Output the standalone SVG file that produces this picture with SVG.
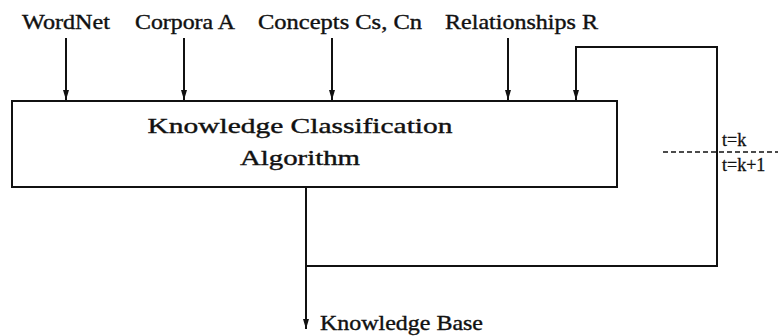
<svg xmlns="http://www.w3.org/2000/svg" width="778" height="336" viewBox="0 0 778 336">
  <style>
    .lbl { font-family: "Liberation Serif", "DejaVu Serif", serif; font-size: 22px; fill: #111; stroke: #111; stroke-width: 0.4; }
    .small { font-family: "Liberation Serif", "DejaVu Serif", serif; font-size: 18px; fill: #111; stroke: #111; stroke-width: 0.3; }
    .box { fill: #fff; stroke: #111; stroke-width: 2; }
    .wire { fill: none; stroke: #111; stroke-width: 2; }
    .dash { fill: none; stroke: #111; stroke-width: 1.6; stroke-dasharray: 5 3; }
  </style>
  <defs>
    <!-- narrow filled arrowhead, drawn along +x so orient="auto" follows the line -->
    <marker id="arrow" viewBox="0 0 10 6" refX="10" refY="3" markerWidth="10" markerHeight="6" markerUnits="userSpaceOnUse" orient="auto">
      <path d="M0,0 L10,3 L0,6 Z" fill="#111"/>
    </marker>
  </defs>
  <rect width="778" height="336" fill="#fff"/>

  <!-- input labels -->
  <g id="input-wordnet"><text class="lbl" x="22" y="29" textLength="88" lengthAdjust="spacingAndGlyphs">WordNet</text></g>
  <g id="input-corpora"><text class="lbl" x="135" y="29" textLength="100" lengthAdjust="spacingAndGlyphs">Corpora A</text></g>
  <g id="input-concepts"><text class="lbl" x="258" y="29" textLength="164" lengthAdjust="spacingAndGlyphs">Concepts Cs, Cn</text></g>
  <g id="input-relationships"><text class="lbl" x="445" y="29" textLength="153" lengthAdjust="spacingAndGlyphs">Relationships R</text></g>

  <!-- main algorithm block -->
  <g id="algorithm">
    <rect class="box" x="12" y="101" width="605" height="86"/>
    <text class="lbl" x="300" y="133" text-anchor="middle" textLength="305" lengthAdjust="spacingAndGlyphs">Knowledge Classification</text>
    <text class="lbl" x="300" y="165" text-anchor="middle" textLength="120" lengthAdjust="spacingAndGlyphs">Algorithm</text>
  </g>

  <!-- output label -->
  <g id="output-kb"><text class="lbl" x="320" y="330" textLength="163" lengthAdjust="spacingAndGlyphs">Knowledge Base</text></g>

  <!-- time step marker -->
  <g id="time-step">
    <line class="dash" x1="663" y1="152" x2="778" y2="152"/>
    <text class="small" x="722" y="146">t=k</text>
    <text class="small" x="722" y="171">t=k+1</text>
  </g>

  <!-- connectors -->
  <g id="connectors">
    <line class="wire" x1="66" y1="38" x2="66" y2="100" marker-end="url(#arrow)"/>
    <line class="wire" x1="184" y1="38" x2="184" y2="100" marker-end="url(#arrow)"/>
    <line class="wire" x1="332" y1="38" x2="332" y2="100" marker-end="url(#arrow)"/>
    <line class="wire" x1="508" y1="38" x2="508" y2="100" marker-end="url(#arrow)"/>
    <polyline class="wire" points="306,187 306,329" marker-end="url(#arrow)"/>
    <polyline class="wire" points="306,266 717,266 717,47 576,47 576,100" marker-end="url(#arrow)"/>
  </g>
</svg>
